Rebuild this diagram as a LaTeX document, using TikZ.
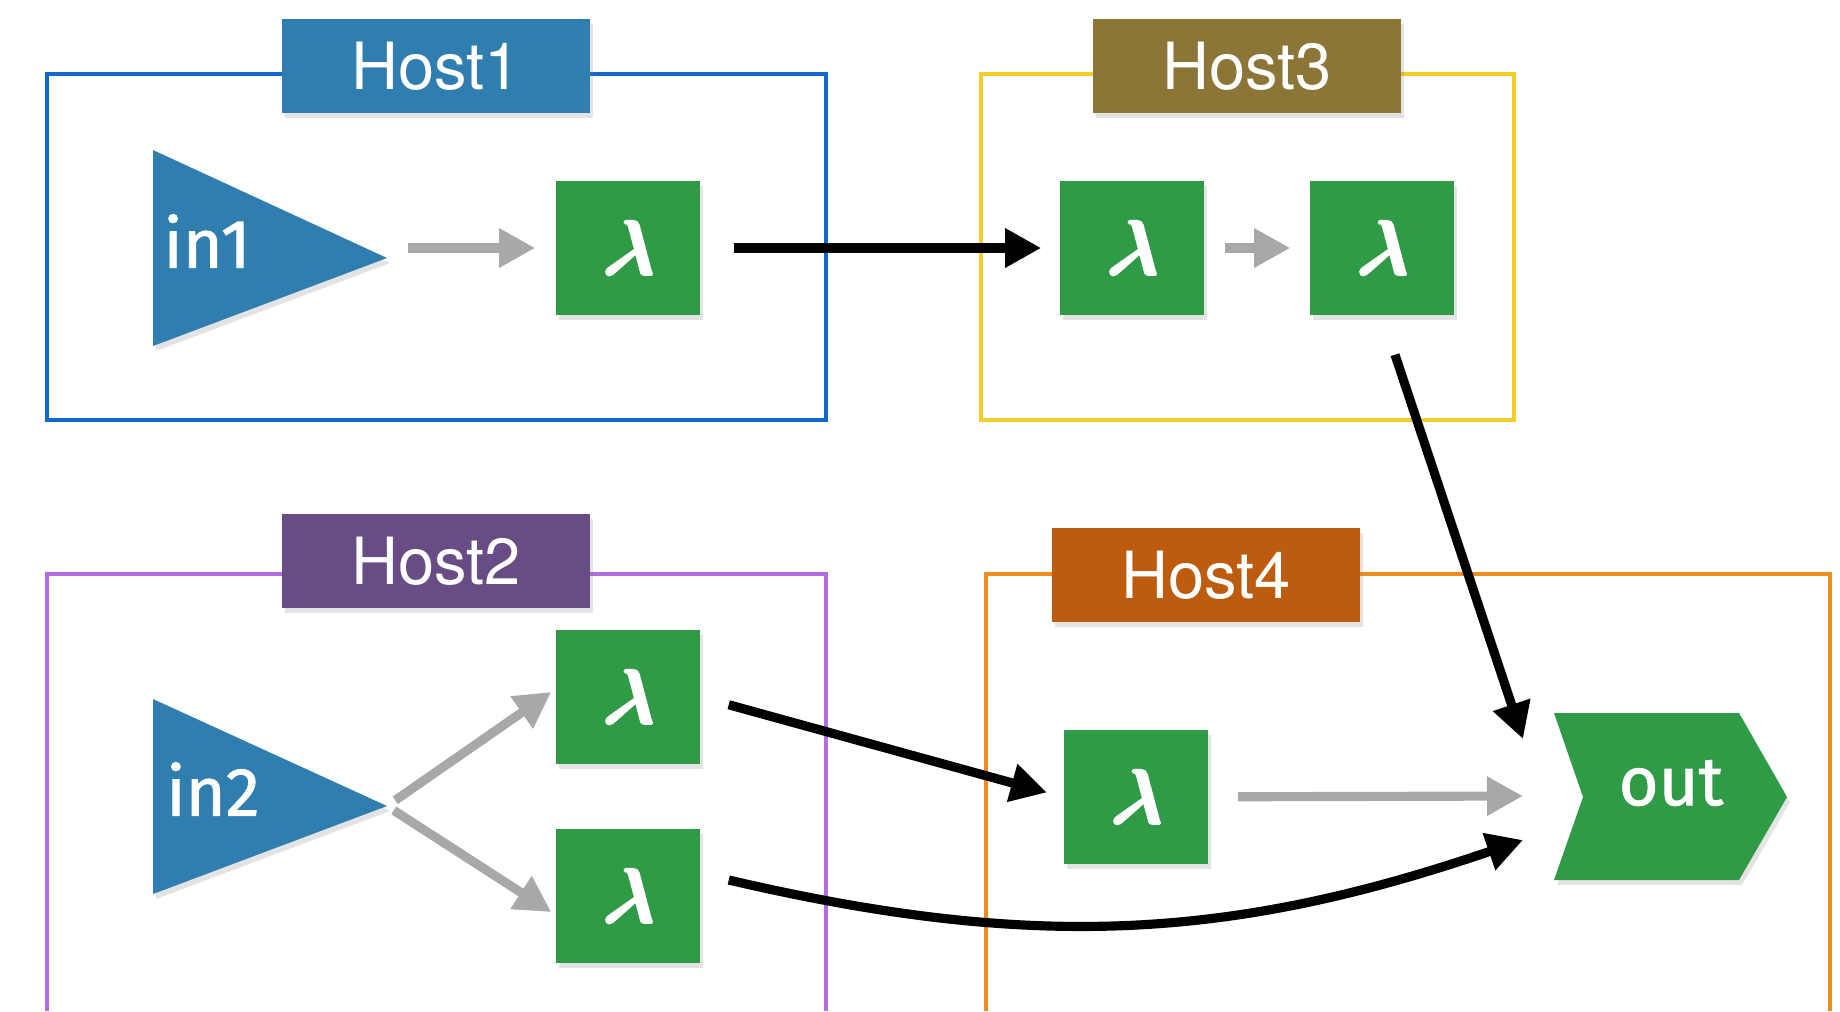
\documentclass[tikz,border=0pt]{standalone}
\usepackage{amsmath}
\usepackage{fontspec}
\setmainfont{TeX Gyre Heros}
\newfontfamily\portfont{Fira Sans}[FakeBold = 1.2]
\newfontfamily\lamfont{latinmodern-math.otf}[FakeBold = 2.5, FakeSlant = 0.18]
\usetikzlibrary{arrows.meta}
\usetikzlibrary{shadows}
\definecolor{hostblue}{RGB}{18,104,201}
\definecolor{tagblue}{RGB}{48,126,176}
\definecolor{hostyellow}{RGB}{244,206,40}
\definecolor{tagolive}{RGB}{139,118,56}
\definecolor{hostviolet}{RGB}{178,108,230}
\definecolor{tagpurple}{RGB}{104,76,132}
\definecolor{hostorange}{RGB}{240,140,30}
\definecolor{tagrust}{RGB}{189,91,15}
\definecolor{lamgreen}{RGB}{48,155,70}
\definecolor{arrgrey}{RGB}{166,169,168}
\tikzset{soft/.style = {drop shadow = {shadow xshift = 0.03cm, shadow yshift = -0.05cm, opacity = 0.22}}}
\tikzset{hostframe/.style = {line width = 1.3pt}}
\tikzset{hosttag/.style = {soft, minimum width = 3.07cm, minimum height = 0.93cm, inner sep = 0, text = white, font = \fontsize{18.5}{20}\selectfont}}
\tikzset{lam/.style = {soft, fill = lamgreen, minimum width = 1.44cm, minimum height = 1.34cm, inner sep = 0, text = white, font = \lamfont\fontsize{22}{25}\selectfont}}
\tikzset{port/.style = {inner sep = 0, text = white, font = \portfont\fontsize{19.5}{22}\selectfont}}
\tikzset{flow/.style = {line width = 2.6pt, -{Triangle[length = 0.36cm, width = 0.37cm]}}}
\tikzset{local/.style = {draw = arrgrey, line width = 2.6pt, -{Triangle[length = 0.36cm, width = 0.37cm]}}}

\begin{document}
\begin{tikzpicture}[x = 0.01cm, y = -0.01cm]

    \useasboundingbox (0, 0) rectangle (1840, 1011);

    \draw [hostframe, hostblue] (47, 74) rectangle (826, 420);
    \draw [hostframe, hostyellow] (981, 74) rectangle (1514, 420);
    \draw [hostframe, hostviolet] (47, 1011) -- (47, 574) -- (826, 574) -- (826, 1011);
    \draw [hostframe, hostorange] (986, 1011) -- (986, 574) -- (1830, 574) -- (1830, 1011);

    \node [hosttag, fill = tagblue] (h1) at (436, 66) {Host1};
    \node [hosttag, fill = tagolive] (h3) at (1247, 66) {Host3};
    \node [hosttag, fill = tagpurple] (h2) at (436, 561) {Host2};
    \node [hosttag, fill = tagrust] (h4) at (1206, 575) {Host4};

    \fill [soft, tagblue] (153, 150) -- (387, 258) -- (153, 346) -- cycle;
    \fill [soft, tagblue] (153, 699) -- (387, 806) -- (153, 894) -- cycle;
    \coordinate (in1tip) at (387, 258);
    \coordinate (in2tip) at (387, 806);
    \node [port] (in1) at (207, 241) {in1};
    \node [port] (in2) at (213, 789) {in2};

    \node [lam] (l1) at (628, 248) {𝝀};
    \node [lam] (l3a) at (1132, 248) {𝝀};
    \node [lam] (l3b) at (1382, 248) {𝝀};
    \node [lam] (l2a) at (628, 697) {𝝀};
    \node [lam] (l2b) at (628, 896) {𝝀};
    \node [lam] (l4) at (1136, 797) {𝝀};

    \fill [soft, lamgreen] (1554, 713) -- (1739, 713) -- (1787, 797) -- (1739, 880) -- (1554, 880) -- (1583, 797) -- cycle;
    \node [port] (out) at (1671, 783) {out};
    \coordinate (outnw) at (1523, 739);
    \coordinate (outw) at (1523, 796);
    \coordinate (outsw) at (1523, 840);

    \draw [local, shorten <= 0.21cm, shorten >= 0.2cm] (in1tip |- l1) -- (l1);
    \draw [local, shorten <= 0.1cm] (in2tip) -- ([xshift = -0.04cm, yshift = 0.05cm] l2a.west);
    \draw [local, shorten <= 0.08cm] (in2tip) -- ([xshift = -0.04cm, yshift = -0.16cm] l2b.west);
    \draw [local, shorten <= 0.2cm, shorten >= 0.19cm] (l3a) -- (l3b);
    \draw [local, shorten <= 0.29cm] (l4) -- (outw);

    \draw [flow, shorten <= 0.33cm, shorten >= 0.18cm] (l1) -- (l3a);
    \draw [flow, shorten <= 0.41cm] (l3b.south) -- (outnw);
    \draw [flow, shorten <= 0.29cm, shorten >= 0.17cm] (l2a.east) -- (l4.west);
    \draw [flow] ([xshift = 0.28cm, yshift = 0.16cm] l2b.east) to [bend right = 16] (outsw);
  \end{tikzpicture}
\end{document}
